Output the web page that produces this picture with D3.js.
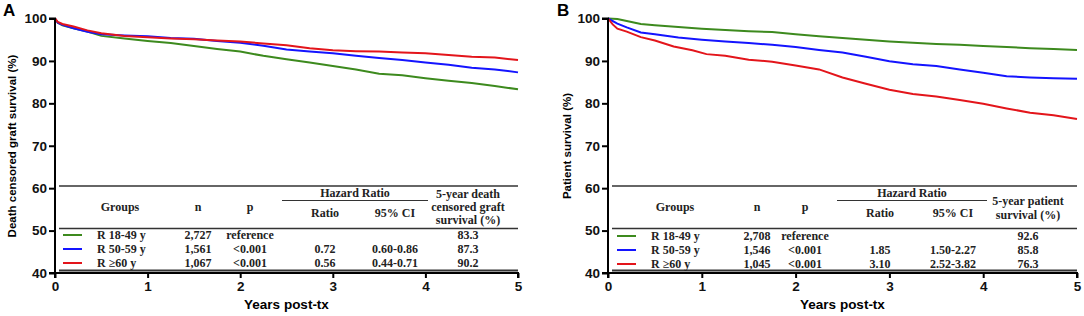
<!DOCTYPE html>
<html>
<head>
<meta charset="utf-8">
<script src="https://cdn.jsdelivr.net/npm/d3@7"></script>
<style>
  body { margin: 0; background: #fff; }
  svg { display: block; }
  .tick text { font-family: "Liberation Sans", Arial, sans-serif; font-weight: bold; font-size: 13.5px; fill: #111; }
  .tbl { font-family: "Liberation Serif", "Times New Roman", serif; font-weight: bold; font-size: 12px; fill: #222; }
</style>
</head>
<body>
<div id="chart"></div>
<script>
// Kaplan-Meier curves: [years, survival %]
const groupNames = ['R 18-49 y', 'R 50-59 y', 'R \u226560 y'];
const groupColors = ['#3d8a1e', '#1414ff', '#e3151b'];

const graftYoung = [[0,100],[0.03,99.0],[0.08,98.4],[0.2,97.7],[0.35,96.9],[0.5,95.9],[0.75,95.3],[1.0,94.7],[1.25,94.2],[1.5,93.5],[1.75,92.8],[2.0,92.2],[2.25,91.2],[2.5,90.4],[2.75,89.6],[3.0,88.8],[3.25,88.0],[3.5,87.0],[3.75,86.6],[4.0,85.9],[4.25,85.3],[4.5,84.8],[4.75,84.1],[5.0,83.3]];
const graftMiddle = [[0,100],[0.03,99.0],[0.08,98.5],[0.2,97.7],[0.35,96.9],[0.5,96.3],[0.75,96.0],[1.0,95.8],[1.25,95.4],[1.5,95.2],[1.75,94.7],[2.0,94.3],[2.25,93.6],[2.5,92.7],[2.75,92.2],[3.0,91.8],[3.25,91.2],[3.5,90.7],[3.75,90.2],[4.0,89.6],[4.25,89.1],[4.5,88.4],[4.75,88.0],[5.0,87.3]];
const graftOld = [[0,100],[0.03,99.2],[0.08,98.7],[0.2,98.1],[0.35,97.2],[0.5,96.5],[0.75,95.9],[1.0,95.6],[1.25,95.3],[1.5,95.1],[1.75,94.8],[2.0,94.6],[2.25,94.1],[2.5,93.7],[2.75,93.0],[3.0,92.5],[3.25,92.3],[3.5,92.2],[3.75,92.0],[4.0,91.8],[4.25,91.4],[4.5,91.0],[4.75,90.8],[5.0,90.2]];

const patientYoung = [[0,100],[0.1,99.9],[0.2,99.4],[0.35,98.7],[0.5,98.4],[0.75,98.0],[1.0,97.6],[1.25,97.3],[1.5,97.0],[1.75,96.8],[2.0,96.3],[2.25,95.8],[2.5,95.4],[2.75,95.0],[3.0,94.6],[3.25,94.3],[3.5,94.0],[3.75,93.8],[4.0,93.5],[4.25,93.3],[4.5,93.0],[4.75,92.8],[5.0,92.6]];
const patientMiddle = [[0,100],[0.1,98.8],[0.2,97.9],[0.35,96.7],[0.5,96.3],[0.75,95.5],[1.0,95.0],[1.25,94.6],[1.5,94.2],[1.75,93.8],[2.0,93.3],[2.25,92.6],[2.5,92.0],[2.75,91.0],[3.0,89.9],[3.25,89.2],[3.5,88.8],[3.75,88.0],[4.0,87.2],[4.25,86.4],[4.5,86.1],[4.75,85.9],[5.0,85.8]];
const patientOld = [[0,100],[0.05,98.6],[0.1,97.6],[0.2,96.9],[0.35,95.6],[0.5,94.8],[0.7,93.4],[0.9,92.5],[1.05,91.6],[1.25,91.2],[1.5,90.3],[1.75,89.8],[2.0,88.9],[2.25,88.0],[2.5,86.1],[2.75,84.6],[3.0,83.2],[3.25,82.2],[3.5,81.6],[3.75,80.8],[4.0,79.9],[4.25,78.8],[4.5,77.8],[4.75,77.2],[5.0,76.3]];

// table contents
const graftN = ['2,727', '1,561', '1,067'];
const graftP = ['reference', '<0.001', '<0.001'];
const graftRatio = ['', '0.72', '0.56'];
const graftCI = ['', '0.60-0.86', '0.44-0.71'];
const graftFiveYear = ['83.3', '87.3', '90.2'];

const patientN = ['2,708', '1,546', '1,045'];
const patientP = ['reference', '<0.001', '<0.001'];
const patientRatio = ['', '1.85', '3.10'];
const patientCI = ['', '1.50-2.27', '2.52-3.82'];
const patientFiveYear = ['92.6', '85.8', '76.3'];

const xTicks = [0, 1, 2, 3, 4, 5];
const yTicks = [40, 50, 60, 70, 80, 90, 100];

const svg = d3.select('#chart').append('svg')
    .attr('width', 1084)
    .attr('height', 316);

function drawPanel(opt) {
    const g = svg.append('g');
    const x = d3.scaleLinear().domain([0, 5]).range([opt.x0, opt.x1]);
    const y = d3.scaleLinear().domain([40, 100]).range([273, 18.5]);

    // panel letter
    g.append('text')
        .attr('x', opt.letterX).attr('y', 16)
        .style('font-family', '"Liberation Sans", Arial, sans-serif')
        .style('font-weight', 'bold').style('font-size', '17px')
        .text(opt.letter);

    // survival curves
    const line = d3.line()
        .x(d => x(d[0]))
        .y(d => y(d[1]));
    opt.series.forEach((s, i) => {
        g.append('path')
            .datum(s)
            .attr('fill', 'none')
            .attr('stroke', groupColors[i])
            .attr('stroke-width', 2)
            .attr('d', line);
    });

    // table
    const L = opt.x0 + 4, R = opt.x1;
    const rule = (x1, x2, yy, w) => g.append('line')
        .attr('x1', x1).attr('x2', x2).attr('y1', yy).attr('y2', yy)
        .attr('stroke', '#333').attr('stroke-width', w);
    rule(L, R, 186, 1.4);
    rule(opt.hrX1, opt.hrX2, 200.5, 1.2);
    rule(L, R, 228.5, 1.4);
    rule(L, R, 270.5, 2.2);

    const txt = (xx, yy, s) => g.append('text')
        .attr('class', 'tbl').attr('x', xx).attr('y', yy)
        .attr('text-anchor', 'middle').text(s);
    const c = opt.cols;
    txt(c.groups, 211, 'Groups');
    txt(c.n, 211, 'n');
    txt(c.p, 211, 'p');
    txt((opt.hrX1 + opt.hrX2) / 2, 197, 'Hazard Ratio');
    txt(c.ratio, 217, 'Ratio');
    txt(c.ci, 217, '95% CI');
    opt.fiveHead.forEach((s, i) => txt(c.five, opt.fiveY[i], s));

    const rowY = opt.rowY;
    groupNames.forEach((name, i) => {
        const yy = rowY[i];
        g.append('line')
            .attr('x1', opt.legX1).attr('x2', opt.legX1 + 19)
            .attr('y1', yy - 4).attr('y2', yy - 4)
            .attr('stroke', groupColors[i]).attr('stroke-width', 2);
        g.append('text').attr('class', 'tbl')
            .attr('x', opt.legX1 + 34).attr('y', yy).text(name);
        txt(c.n, yy, opt.n[i]);
        txt(c.p, yy, opt.p[i]);
        txt(c.ratio, yy, opt.ratio[i]);
        txt(c.ci, yy, opt.ci[i]);
        txt(c.five, yy, opt.five[i]);
    });

    // axes
    const yAxis = g.append('g')
        .attr('transform', `translate(${opt.x0},0)`)
        .call(d3.axisLeft(y).tickValues(yTicks).tickSize(6).tickPadding(2).tickFormat(d3.format('d')));
    const xAxis = g.append('g')
        .attr('transform', 'translate(0,273)')
        .call(d3.axisBottom(x).tickValues(xTicks).tickSize(5).tickPadding(3).tickFormat(d3.format('d')));
    [yAxis, xAxis].forEach(a => {
        a.select('.domain').attr('stroke', '#000').attr('stroke-width', 2);
        a.selectAll('.tick line').attr('stroke', '#000').attr('stroke-width', 2);
    });
    yAxis.select('.domain').attr('d', `M-6,${y(100)}H0V${y(40)}H-6`);
    xAxis.select('.domain').attr('d', `M${opt.x0},5V0H${opt.x1}V5`);

    // axis titles
    g.append('text')
        .attr('transform', `translate(${opt.yLabelX},${146}) rotate(-90)`)
        .attr('text-anchor', 'middle')
        .style('font-family', '"Liberation Sans", Arial, sans-serif')
        .style('font-weight', 'bold').style('font-size', '11.5px')
        .text(opt.yLabel);
    g.append('text')
        .attr('x', (opt.x0 + opt.x1) / 2).attr('y', 309)
        .attr('text-anchor', 'middle')
        .style('font-family', '"Liberation Sans", Arial, sans-serif')
        .style('font-weight', 'bold').style('font-size', '13.5px')
        .text('Years post-tx');
}

drawPanel({
    letter: 'A', letterX: 3,
    x0: 55, x1: 518,
    series: [graftYoung, graftMiddle, graftOld],
    yLabel: 'Death censored graft survival (%)', yLabelX: 16,
    hrX1: 282, hrX2: 428,
    cols: { groups: 120, n: 198, p: 250, ratio: 325, ci: 395, five: 468 },
    fiveHead: ['5-year death', 'censored graft', 'survival (%)'],
    fiveY: [198, 211, 224],
    rowY: [239, 253, 267],
    legX1: 63,
    n: graftN, p: graftP, ratio: graftRatio, ci: graftCI, five: graftFiveYear
});

drawPanel({
    letter: 'B', letterX: 557,
    x0: 608, x1: 1077,
    series: [patientYoung, patientMiddle, patientOld],
    yLabel: 'Patient survival (%)', yLabelX: 571,
    hrX1: 837, hrX2: 987,
    cols: { groups: 675, n: 757, p: 805, ratio: 880, ci: 953, five: 1028 },
    fiveHead: ['5-year patient', 'survival (%)'],
    fiveY: [205, 219],
    rowY: [240, 254, 268],
    legX1: 617,
    n: patientN, p: patientP, ratio: patientRatio, ci: patientCI, five: patientFiveYear
});
</script>
</body>
</html>
